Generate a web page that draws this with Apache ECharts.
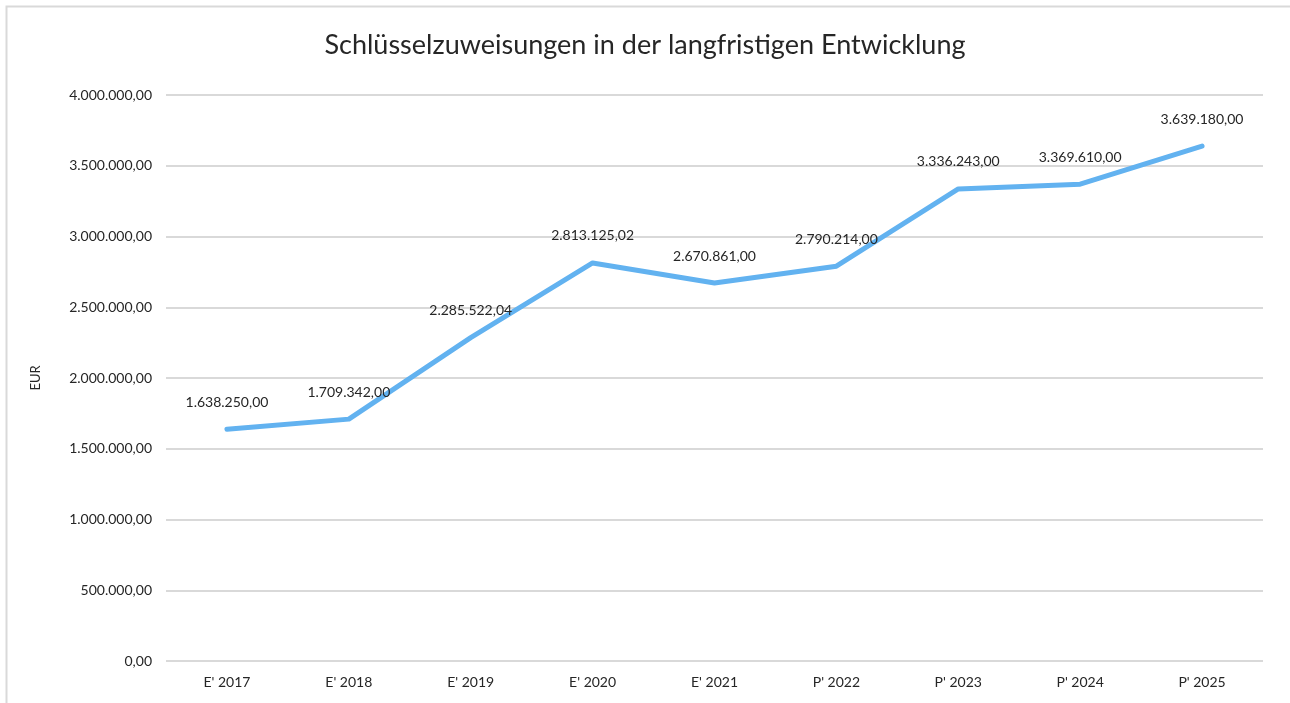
<!DOCTYPE html>
<html><head><meta charset="utf-8">
<script src="https://cdn.jsdelivr.net/npm/echarts@6/dist/echarts.min.js"></script>
<style>html,body{margin:0;padding:0;background:#fff}#c{width:1290px;height:703px}</style>
</head><body><div id="c"></div>
<script>
const categories = ["E' 2017","E' 2018","E' 2019","E' 2020","E' 2021","P' 2022","P' 2023","P' 2024","P' 2025"];
const values = [1638250.00, 1709342.00, 2285522.04, 2813125.02, 2670861.00, 2790214.00, 3336243.00, 3369610.00, 3639180.00];
const titleText = "Schlüsselzuweisungen in der langfristigen Entwicklung";
const yName = "EUR";

function de(v){
  const s = Number(v).toFixed(2);
  let [i,d] = s.split('.');
  i = i.replace(/\B(?=(\d{3})+(?!\d))/g,'.');
  return i + ',' + d;
}
const FONT = "Lato";
const chart = echarts.init(document.getElementById('c'));
chart.setOption({
  animation:false,
  graphic:[{type:'rect',shape:{x:6.5,y:6.5,width:1300,height:720},style:{fill:'none',stroke:'#d9d9d9',lineWidth:2},silent:true}],
  title:{text:titleText,left:'center',top:27,textStyle:{fontFamily:FONT,fontSize:27,fontWeight:'normal',color:'#262626'}},
  grid:{left:166,right:27,top:95,bottom:42},
  xAxis:{type:'category',data:categories,boundaryGap:true,
    axisLine:{show:false},axisTick:{show:false},
    axisLabel:{fontFamily:FONT,fontSize:14,color:'#262626',margin:14}},
  yAxis:{type:'value',min:0,max:4000000,interval:500000,name:yName,nameLocation:'middle',nameGap:124,
    nameTextStyle:{fontFamily:FONT,fontSize:13,color:'#262626'},
    axisLine:{show:false},axisTick:{show:false},
    axisLabel:{fontFamily:FONT,fontSize:14,color:'#262626',margin:14,formatter:de},
    splitLine:{lineStyle:{color:'#d9d9d9',width:2}}},
  series:[{type:'line',data:values,showSymbol:true,symbol:'circle',symbolSize:0.01,
    lineStyle:{color:'#62b2f0',width:5,cap:'round',join:'round'},
    label:{show:true,position:'top',distance:20,formatter:p=>de(p.value),fontFamily:FONT,fontSize:14,color:'#262626'},
    labelLayout:{hideOverlap:false},
    itemStyle:{color:'#62b2f0'}}]
});
</script></body></html>
